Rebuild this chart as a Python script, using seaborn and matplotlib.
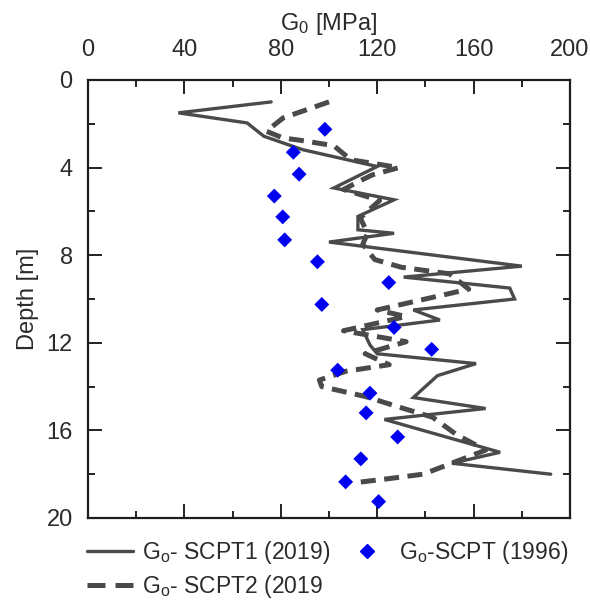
import matplotlib
matplotlib.use("Agg")
import matplotlib.pyplot as plt
import seaborn as sns
import pandas as pd
from matplotlib.ticker import MultipleLocator
from matplotlib.lines import Line2D

# ---- data ----
depth_scpt1 = [1.0, 1.5, 1.96, 2.57, 3.18, 3.95, 4.93, 5.47, 6.23, 6.84, 7.0, 7.4, 8.5, 9.0, 9.5,
               10.0, 10.5, 10.96, 11.4, 12.1, 12.5, 12.95, 13.5, 14.5, 15.0, 15.5, 16.75, 17.0, 17.5, 18.0]
g0_scpt1 = [76, 37.5, 66, 73, 89, 120, 102, 127, 112, 112, 127, 100, 180, 131, 175,
            177, 135, 146, 114, 117, 120, 161, 145, 135, 165, 123, 163, 171, 151, 192]

depth_scpt2 = [1.0, 1.73, 2.34, 2.65, 2.75, 3.0, 3.64, 4.0, 4.33, 4.6, 5.0, 5.5, 6.3, 7.0, 7.5,
               8.2, 8.55, 8.85, 9.55, 10.5, 10.8, 11.45, 11.95, 12.5, 13.0, 13.3, 13.7, 14.0,
               14.45, 15.0, 15.4, 16.2, 16.9, 17.75, 18.0, 18.2, 18.4]
g0_scpt2 = [100, 81, 74, 81, 88, 102, 109, 129, 118, 113, 106, 121, 113, 116, 114,
            119, 130, 150, 158, 120, 132, 106, 132, 115, 125, 107, 96, 97,
            115, 131, 143, 153, 165, 145, 139, 125, 110]

depth_1996 = [2.25, 3.3, 4.3, 5.3, 6.25, 7.3, 8.3, 9.25, 10.25, 11.3, 12.3, 13.25, 14.3, 15.2,
              16.3, 17.3, 18.35, 19.25]
g0_1996 = [98.3, 85.2, 87.6, 77.3, 80.8, 81.6, 95.2, 124.8, 97.0, 127.0, 142.6, 103.6, 117.0,
           115.4, 128.5, 113.2, 106.9, 120.6]

labels = ["G$_o$- SCPT1 (2019)", "G$_o$- SCPT2 (2019", "G$_o$-SCPT (1996)"]
x_label = "G$_0$ [MPa]"
y_label = "Depth [m]"

# ---- style ----
sns.set_style("white")
plt.rcParams['font.family'] = ['Liberation Sans Narrow', 'Liberation Sans', 'DejaVu Sans']
plt.rcParams['mathtext.default'] = 'regular'
txt_color = "#2b2b2b"
line_color = "#4a4a4a"

fig = plt.figure(figsize=(5.9, 6.02), dpi=100)
ax = fig.add_axes([88/590, 1-518/602, (570-88)/590, (518-80)/602])

df1 = pd.DataFrame({"g0": g0_scpt1, "depth": depth_scpt1})
df2 = pd.DataFrame({"g0": g0_scpt2, "depth": depth_scpt2})
df3 = pd.DataFrame({"g0": g0_1996, "depth": depth_1996})

sns.lineplot(data=df1, x="g0", y="depth", sort=False, estimator=None, ax=ax,
             color=line_color, linewidth=2.4, solid_joinstyle='miter')
sns.lineplot(data=df2, x="g0", y="depth", sort=False, estimator=None, ax=ax,
             color=line_color, linewidth=3.6, linestyle=(0, (3.0, 1.7)))
sns.scatterplot(data=df3, x="g0", y="depth", ax=ax, marker="D", s=58,
                color="#0000f0", edgecolor="none", zorder=3)

ax.set_xlim(0, 200)
ax.set_ylim(20, 0)
ax.xaxis.set_major_locator(MultipleLocator(40))
ax.xaxis.set_minor_locator(MultipleLocator(20))
ax.yaxis.set_major_locator(MultipleLocator(4))
ax.yaxis.set_minor_locator(MultipleLocator(2))
ax.xaxis.tick_top()
ax.xaxis.set_label_position("top")
ax.tick_params(which='both', direction='in', top=True, bottom=True, left=True, right=True,
               color="#222222", width=1.4)
ax.tick_params(which='major', length=10)
ax.tick_params(which='minor', length=5)
ax.tick_params(axis='x', which='major', labelsize=17, pad=14, labelcolor=txt_color)
ax.tick_params(axis='y', which='major', labelsize=17, pad=11, labelcolor=txt_color)
for sp in ax.spines.values():
    sp.set_color("#1e1e1e")
    sp.set_linewidth(1.6)

ax.set_xlabel(x_label, fontsize=17, color=txt_color, labelpad=6)
ax.set_ylabel(y_label, fontsize=17, color=txt_color, labelpad=5)

handles = [Line2D([], [], color=line_color, linewidth=2.4),
           Line2D([], [], color=line_color, linewidth=3.6, linestyle=(0, (3.6, 2.0))),
           Line2D([], [], color="#0000f0", marker="D", linestyle="none", markersize=7.5)]
leg = fig.legend(handles, labels, loc="upper left", bbox_to_anchor=(78/590, 1-530/602),
                 ncol=2, frameon=False, fontsize=16.5, handlelength=2.0, handletextpad=0.4,
                 columnspacing=0.6, labelspacing=0.3, borderaxespad=0)
for t in leg.get_texts():
    t.set_color(txt_color)

fig.savefig("out.png", dpi=100)
